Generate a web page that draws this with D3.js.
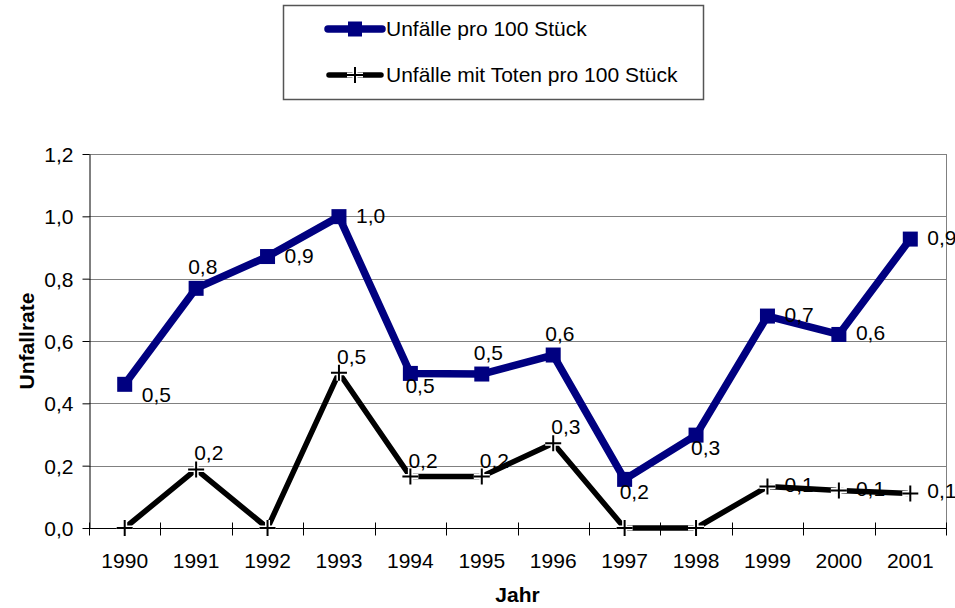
<!DOCTYPE html>
<html>
<head>
<meta charset="utf-8">
<script src="https://cdn.jsdelivr.net/npm/d3@7"></script>
<style>
  body { margin: 0; background: #fff; }
  svg { display: block; font-family: "Liberation Sans", Arial, sans-serif; }
</style>
</head>
<body>
<div id="chart"></div>
<script>
// data
var years = ["1990", "1991", "1992", "1993", "1994", "1995", "1996", "1997", "1998", "1999", "2000", "2001"];
var unfaelle = [0.461, 0.769, 0.871, 0.999, 0.496, 0.494, 0.555, 0.156, 0.298, 0.680, 0.621, 0.927];
var unfaelleTote = [0, 0.188, 0, 0.498, 0.165, 0.165, 0.272, 0, 0, 0.133, 0.120, 0.111];
var yTicks = [0, 0.2, 0.4, 0.6, 0.8, 1.0, 1.2];
var seriesNames = ["Unfälle pro 100 Stück", "Unfälle mit Toten pro 100 Stück"];

// where each data label sits relative to its point
var labelPos1 = ["belowRight", "above", "right", "right", "below", "above", "above", "below", "below", "right", "right", "right"];
var labelPos2 = ["none", "above", "none", "above", "above", "above", "above", "none", "none", "right", "right", "right"];

var offsets = {
    right: [17, 6],
    above: [-8, -14],
    below: [-5, 20],
    belowRight: [17, 18],
    above2: [-2, -9],
    right2: [17, 5]
};

var width = 955, height = 608;
var margin = {top: 154, right: 9, bottom: 80, left: 89};
var innerW = width - margin.left - margin.right;
var innerH = height - margin.top - margin.bottom;

var fmt = function (v) { return d3.format(".1f")(v).replace(".", ","); };

var svg = d3.select("#chart")
    .append("svg")
    .attr("width", width)
    .attr("height", height);

var g = svg.append("g")
    .attr("transform", "translate(" + margin.left + "," + margin.top + ")");

var x = d3.scaleBand()
    .domain(years)
    .range([0, innerW]);

var y = d3.scaleLinear()
    .domain([0, 1.2])
    .range([innerH, 0]);

var cx = function (i) { return x(years[i]) + x.bandwidth() / 2; };

// gridlines
g.append("g")
    .selectAll("line")
    .data(yTicks.slice(1))
    .enter()
    .append("line")
    .attr("x1", 0)
    .attr("x2", innerW)
    .attr("y1", function (d) { return Math.round(y(d)) + 0.5; })
    .attr("y2", function (d) { return Math.round(y(d)) + 0.5; })
    .style("stroke", "#808080")
    .style("stroke-width", 1);

// right border of plot area
g.append("line")
    .attr("x1", innerW + 0.5).attr("x2", innerW + 0.5)
    .attr("y1", 0).attr("y2", innerH)
    .style("stroke", "#808080");

// y axis
var yAxis = g.append("g")
    .attr("transform", "translate(0.5,0)")
    .call(d3.axisLeft(y).tickValues(yTicks).tickSize(7).tickSizeOuter(0).tickFormat(fmt));
yAxis.select(".domain").style("stroke", "#000");
yAxis.selectAll(".tick line").style("stroke", "#000");
yAxis.selectAll("text")
    .attr("x", -16)
    .attr("dy", "0.35em")
    .style("font-size", "21px")
    .style("fill", "#000")
    .style("font-family", "Liberation Sans, Arial, sans-serif");

// x axis with ticks between categories
var xAxis = g.append("g")
    .attr("transform", "translate(0," + (Math.round(innerH) + 0.5) + ")");
xAxis.append("line")
    .attr("x1", 0).attr("x2", innerW)
    .style("stroke", "#000");
xAxis.selectAll(".sep")
    .data(d3.range(years.length + 1))
    .enter()
    .append("line")
    .attr("class", "sep")
    .attr("x1", function (d) { return Math.round(d * x.bandwidth()) + 0.5; })
    .attr("x2", function (d) { return Math.round(d * x.bandwidth()) + 0.5; })
    .attr("y1", -6)
    .attr("y2", 7)
    .style("stroke", "#000");
xAxis.selectAll(".yr")
    .data(years)
    .enter()
    .append("text")
    .attr("class", "yr")
    .attr("x", function (d) { return x(d) + x.bandwidth() / 2; })
    .attr("y", 39)
    .attr("text-anchor", "middle")
    .style("font-size", "21px")
    .text(function (d) { return d; });

// axis titles
svg.append("text")
    .attr("transform", "translate(34," + (margin.top + innerH / 2) + ") rotate(-90)")
    .attr("text-anchor", "middle")
    .style("font-size", "21px")
    .style("font-weight", "bold")
    .text("Unfallrate");

svg.append("text")
    .attr("x", margin.left + innerW / 2)
    .attr("y", 602)
    .attr("text-anchor", "middle")
    .style("font-size", "21px")
    .style("font-weight", "bold")
    .text("Jahr");

var line = d3.line()
    .x(function (d, i) { return cx(i); })
    .y(function (d) { return y(d); });

// series 2 (black, plus markers)
g.append("path")
    .datum(unfaelleTote)
    .attr("d", line)
    .style("fill", "none")
    .style("stroke", "#000")
    .style("stroke-width", 5.5)
    .style("stroke-linejoin", "round");

// series 1 (navy, square markers)
g.append("path")
    .datum(unfaelle)
    .attr("d", line)
    .style("fill", "none")
    .style("stroke", "#000080")
    .style("stroke-width", 7.5)
    .style("stroke-linejoin", "round");

g.selectAll(".sq")
    .data(unfaelle)
    .enter()
    .append("rect")
    .attr("class", "sq")
    .attr("x", function (d, i) { return cx(i) - 7.5; })
    .attr("y", function (d) { return y(d) - 7.5; })
    .attr("width", 15)
    .attr("height", 15)
    .style("fill", "#000080");

function plus(sel, px, py, s) {
    var p = "M" + (px - s) + "," + py + "H" + (px + s) + "M" + px + "," + (py - s) + "V" + (py + s);
    sel.append("path").attr("d", p).style("stroke", "#fff").style("stroke-width", 5);
    sel.append("path").attr("d", p).style("stroke", "#000").style("stroke-width", 2);
}

var plusG = g.append("g");
unfaelleTote.forEach(function (d, i) {
    plus(plusG, cx(i), y(d), 8);
});

// data labels
unfaelle.forEach(function (d, i) {
    var o = offsets[labelPos1[i]];
    g.append("text")
        .attr("x", cx(i) + o[0])
        .attr("y", y(d) + o[1])
        .style("font-size", "21px")
        .text(fmt(d));
});

unfaelleTote.forEach(function (d, i) {
    if (labelPos2[i] == "none") return;
    var o = offsets[labelPos2[i] + "2"];
    g.append("text")
        .attr("x", cx(i) + o[0])
        .attr("y", y(d) + o[1])
        .style("font-size", "21px")
        .text(fmt(d));
});

// legend
var legend = svg.append("g");
legend.append("rect")
    .attr("x", 283.5)
    .attr("y", 5.5)
    .attr("width", 420)
    .attr("height", 94)
    .style("fill", "#fff")
    .style("stroke", "#555")
    .style("stroke-width", 1.5);

var legRows = [29, 75];
legend.append("line")
    .attr("x1", 328).attr("x2", 382)
    .attr("y1", legRows[0]).attr("y2", legRows[0])
    .style("stroke", "#000080")
    .style("stroke-width", 7.5)
    .style("stroke-linecap", "round");
legend.append("rect")
    .attr("x", 348).attr("y", legRows[0] - 7.5)
    .attr("width", 14).attr("height", 15)
    .style("fill", "#000080");

legend.append("line")
    .attr("x1", 329).attr("x2", 381)
    .attr("y1", legRows[1]).attr("y2", legRows[1])
    .style("stroke", "#000")
    .style("stroke-width", 5.5)
    .style("stroke-linecap", "round");
plus(legend, 355, legRows[1], 8);

legend.selectAll(".lt")
    .data(seriesNames)
    .enter()
    .append("text")
    .attr("class", "lt")
    .attr("x", 386)
    .attr("y", function (d, i) { return legRows[i] + 7; })
    .style("font-size", "21px")
    .text(function (d) { return d; });
</script>
</body>
</html>
